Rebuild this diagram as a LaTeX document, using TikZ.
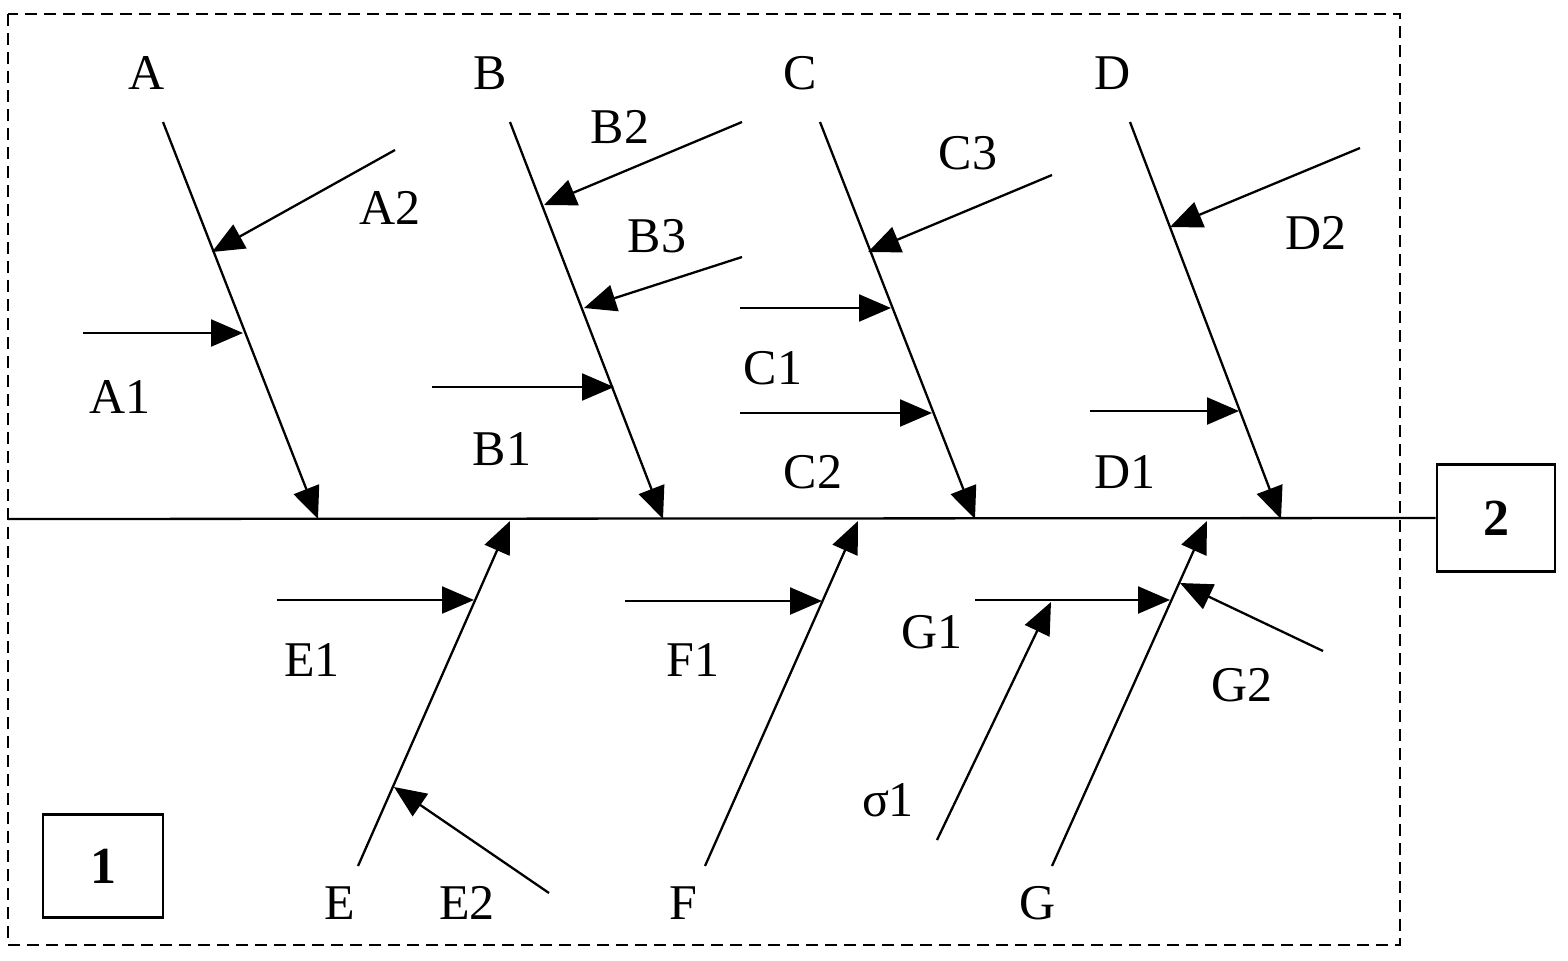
\documentclass[tikz,border=0pt]{standalone}
\usepackage{fontspec}
\setmainfont{Liberation Serif}
\usetikzlibrary{arrows.meta}
\begin{document}
\begin{tikzpicture}[x=0.5pt,y=-0.5pt,line width=1.15pt,
  tip/.style={-{Triangle[length=16pt,width=13.5pt]}},
  lbl/.style={inner sep=0pt,font=\fontsize{25}{30}\selectfont},
  numbox/.style={draw,line width=1.3pt,font=\fontsize{26}{30}\selectfont\bfseries}]
\useasboundingbox (0,0) rectangle (1568,960);
\draw[line width=1.3pt,dash pattern=on 6pt off 3.5pt] (8,14) rectangle (1400,945);
\node[numbox,minimum width=59pt,minimum height=53.5pt] (box_2) at (1496,518) {2};
\node[numbox,minimum width=60pt,minimum height=51.5pt] (box_1) at (103,866) {1};
\coordinate (spine_0) at (8,519);
\draw (spine_0) -- (box_2.west);
\node[lbl] (l_A) at (147,73) {A};
\node[lbl] (l_B) at (490,73) {B};
\node[lbl] (l_C) at (800,73) {C};
\node[lbl] (l_D) at (1113,73) {D};
\node[lbl] (l_A2) at (390,208) {A2};
\node[lbl] (l_A1) at (120,397) {A1};
\node[lbl] (l_B2) at (620,127) {B2};
\node[lbl] (l_B3) at (657,236) {B3};
\node[lbl] (l_B1) at (502,449) {B1};
\node[lbl] (l_C3) at (968,153) {C3};
\node[lbl] (l_C1) at (773,368) {C1};
\node[lbl] (l_C2) at (813,472) {C2};
\node[lbl] (l_D2) at (1316,233) {D2};
\node[lbl] (l_D1) at (1125,472) {D1};
\node[lbl] (l_E) at (340,903) {E};
\node[lbl] (l_E2) at (467,903) {E2};
\node[lbl] (l_E1) at (312,660) {E1};
\node[lbl] (l_F) at (683,903) {F};
\node[lbl] (l_F1) at (693,660) {F1};
\node[lbl] (l_G) at (1038,903) {G};
\node[lbl] (l_G1) at (932,632) {G1};
\node[lbl] (l_s1) at (888,800) {σ1};
\node[lbl] (l_G2) at (1242,685) {G2};
\coordinate (t_A) at (163,122);
\coordinate (h_A) at (318,519);
\draw[tip] (t_A) -- (h_A);
\coordinate (t_A2) at (395,150);
\coordinate (h_A2) at (212,252);
\draw[tip] (t_A2) -- (h_A2);
\coordinate (t_A1) at (83,333);
\coordinate (h_A1) at (243,333);
\draw[tip] (t_A1) -- (h_A1);
\coordinate (t_B) at (510,122);
\coordinate (h_B) at (663,519);
\draw[tip] (t_B) -- (h_B);
\coordinate (t_B2) at (742,122);
\coordinate (h_B2) at (544,205);
\draw[tip] (t_B2) -- (h_B2);
\coordinate (t_B3) at (742,257);
\coordinate (h_B3) at (584,308);
\draw[tip] (t_B3) -- (h_B3);
\coordinate (t_B1) at (432,387);
\coordinate (h_B1) at (614,387);
\draw[tip] (t_B1) -- (h_B1);
\coordinate (t_C) at (820,122);
\coordinate (h_C) at (975,519);
\draw[tip] (t_C) -- (h_C);
\coordinate (t_C3) at (1052,175);
\coordinate (h_C3) at (868,252);
\draw[tip] (t_C3) -- (h_C3);
\coordinate (t_C1) at (740,308);
\coordinate (h_C1) at (891,308);
\draw[tip] (t_C1) -- (h_C1);
\coordinate (t_C2) at (740,413);
\coordinate (h_C2) at (932,413);
\draw[tip] (t_C2) -- (h_C2);
\coordinate (t_D) at (1130,122);
\coordinate (h_D) at (1281,519);
\draw[tip] (t_D) -- (h_D);
\coordinate (t_D2) at (1360,148);
\coordinate (h_D2) at (1170,227);
\draw[tip] (t_D2) -- (h_D2);
\coordinate (t_D1) at (1090,411);
\coordinate (h_D1) at (1239,411);
\draw[tip] (t_D1) -- (h_D1);
\coordinate (t_E) at (358,866);
\coordinate (h_E) at (510,521);
\draw[tip] (t_E) -- (h_E);
\coordinate (t_E2) at (549,893);
\coordinate (h_E2) at (394,787);
\draw[tip] (t_E2) -- (h_E2);
\coordinate (t_E1) at (277,600);
\coordinate (h_E1) at (474,600);
\draw[tip] (t_E1) -- (h_E1);
\coordinate (t_F) at (705,866);
\coordinate (h_F) at (858,521);
\draw[tip] (t_F) -- (h_F);
\coordinate (t_F1) at (625,601);
\coordinate (h_F1) at (822,601);
\draw[tip] (t_F1) -- (h_F1);
\coordinate (t_G) at (1052,866);
\coordinate (h_G) at (1207,521);
\draw[tip] (t_G) -- (h_G);
\coordinate (t_G1) at (975,600);
\coordinate (h_G1) at (1170,600);
\draw[tip] (t_G1) -- (h_G1);
\coordinate (t_s1) at (937,840);
\coordinate (h_s1) at (1051,602);
\draw[tip] (t_s1) -- (h_s1);
\coordinate (t_G2) at (1323,651);
\coordinate (h_G2) at (1180,583);
\draw[tip] (t_G2) -- (h_G2);
\end{tikzpicture}
\end{document}
